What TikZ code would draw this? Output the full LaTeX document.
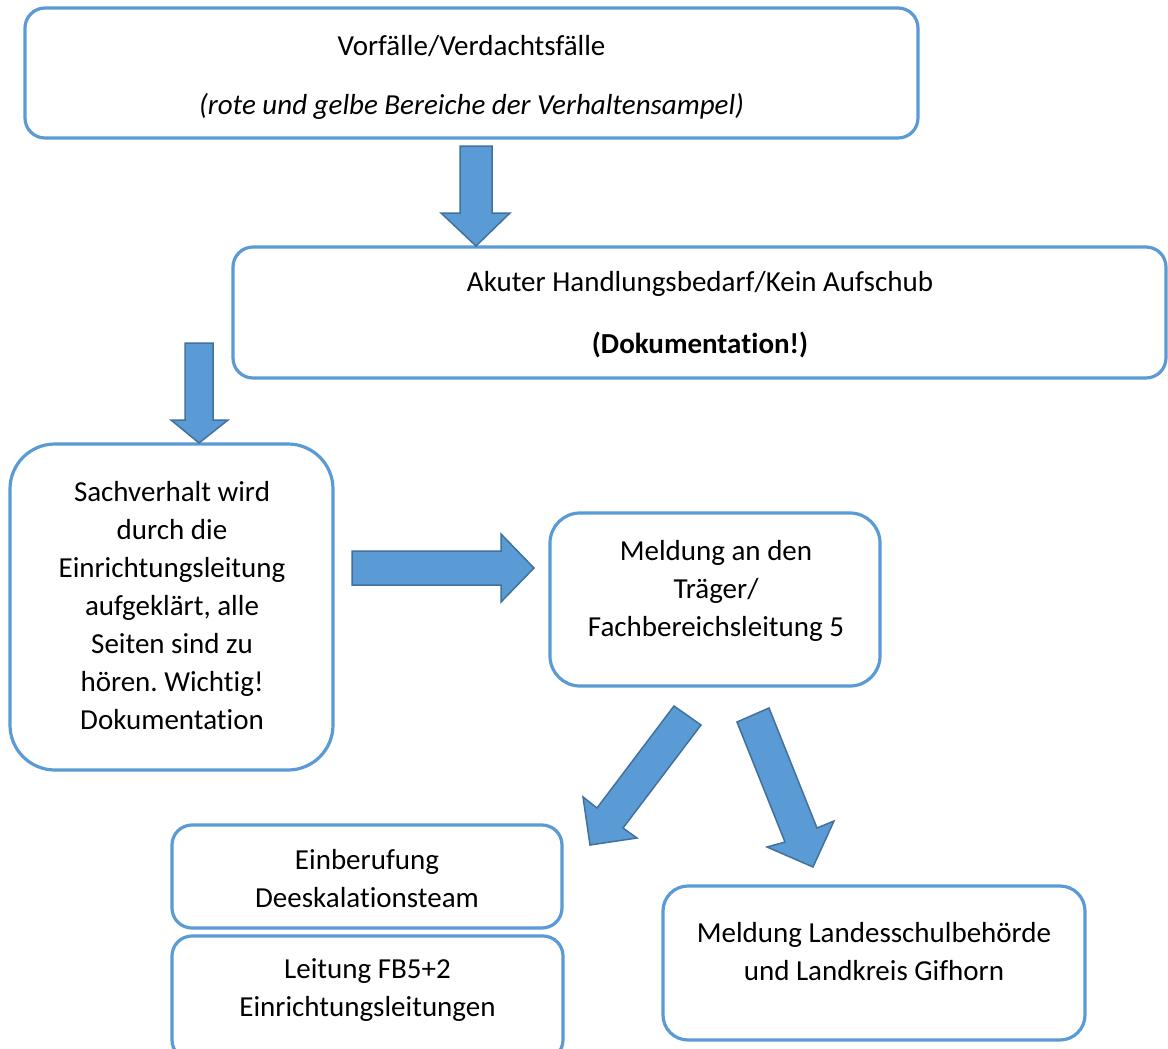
\documentclass[tikz,border=0pt]{standalone}
\usepackage{fontspec}
\setmainfont{Carlito}[Ligatures={NoCommon}]
\frenchspacing
\definecolor{boxline}{HTML}{5B9BD5}
\definecolor{arrfill}{HTML}{5B9BD5}
\definecolor{arredge}{HTML}{41719C}
\begin{document}
\begin{tikzpicture}[x=1pt,y=-1pt,
  box/.style={draw=boxline, line width=3.2pt, rectangle, inner sep=0pt, align=center,
    font=\fontsize{29}{38}\selectfont},
  txt/.style={inner sep=0pt, align=center, font=\fontsize{29}{38}\selectfont},
  blockarrow/.style={fill=arrfill, draw=arredge, line width=1.5pt, line join=miter}]
\useasboundingbox (0,0) rectangle (1168,1049);
\clip (0,0) rectangle (1168,1049);
\fill[white] (0,0) rectangle (1168,1049);

% boxes
\node[box, rounded corners=20pt, minimum width=893pt, minimum height=130pt] (b1) at (471.5,73) {};
\node[txt] (t1a) at (471.5,46) {Vorfälle/Verdachtsfälle};
\node[txt] (t1b) at (471.5,106) {\itshape (rote und gelbe Bereiche der Verhaltensampel)};

\node[box, rounded corners=20pt, minimum width=933pt, minimum height=131pt] (b2) at (699.5,312.5) {};
\node[txt] (t2a) at (700,284) {Akuter Handlungsbedarf/Kein Aufschub};
\node[txt] (t2b) at (700,345) {\bfseries (Dokumentation!)};

\node[box, rounded corners=45pt, minimum width=323pt, minimum height=326pt] (b3) at (171.5,607) {};
\node[txt] (t3) at (172,606) {Sachverhalt wird\\durch die\\Einrichtungsleitung\\aufgeklärt, alle\\Seiten sind zu\\hören. Wichtig!\\Dokumentation};

\node[box, rounded corners=30pt, minimum width=330pt, minimum height=173pt] (b4) at (715,599.5) {};
\node[txt] (t4) at (716,591) {Meldung an den\\Träger/\\Fachbereichsleitung 5};

\node[box, rounded corners=20pt, minimum width=390pt, minimum height=103pt] (b5) at (367,876.5) {};
\node[txt] (t5) at (367,879) {Einberufung\\Deeskalationsteam};

\node[box, rounded corners=20pt, minimum width=391pt, minimum height=124pt] (b6) at (367.5,998) {};
\node[txt] (t6) at (367.5,990) {Leitung FB5+2\\Einrichtungsleitungen};

\node[box, rounded corners=25pt, minimum width=422pt, minimum height=154pt] (b7) at (874,963) {};
\node[txt] (t7) at (874,952) {Meldung Landesschulbehörde\\und Landkreis Gifhorn};

% block arrows
\draw[blockarrow] (460,146) -- (492,146) -- (492,213) -- (510,213) -- (476,246) -- (441,213) -- (460,213) -- cycle;
\draw[blockarrow] (185,343) -- (213,343) -- (213,420) -- (228,420) -- (199,443) -- (171,420) -- (185,420) -- cycle;
\draw[blockarrow] (352,551) -- (501,551) -- (501,534) -- (534,568) -- (501,602) -- (501,585) -- (352,585) -- cycle;
\draw[blockarrow] (674,706) -- (701,725) -- (623,828) -- (637,838) -- (590,845) -- (583,797) -- (597,808) -- cycle;
\draw[blockarrow] (737,722) -- (769,708) -- (817,828) -- (834,821) -- (813,867) -- (767,847) -- (785,842) -- cycle;
\end{tikzpicture}
\end{document}
